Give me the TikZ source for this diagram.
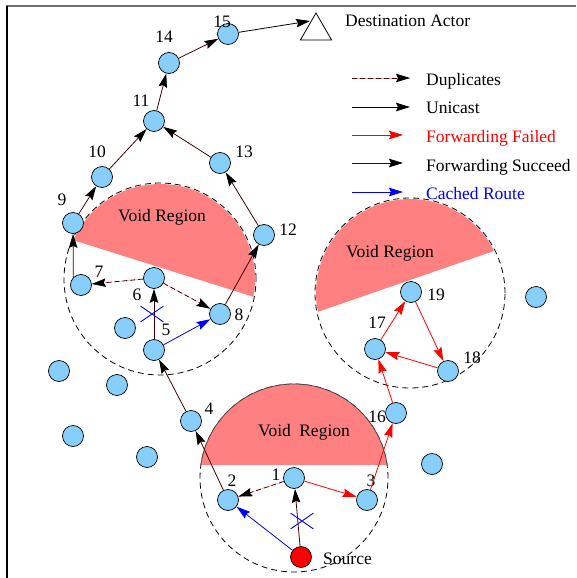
\documentclass[tikz,border=0pt]{standalone}
\usepackage{fontspec}
\setmainfont{Liberation Serif}
\usetikzlibrary{arrows.meta,shapes.geometric,shapes.misc}

\definecolor{skyb}{RGB}{135,206,250}
\definecolor{voidred}{RGB}{255,128,128}
\definecolor{pathdark}{RGB}{64,0,0}
\definecolor{duppink}{RGB}{255,150,150}
\definecolor{framegray}{RGB}{110,110,110}

\tikzset{
  sensor/.style={circle, draw=black, line width=0.7pt, fill=skyb,
    minimum size=21pt, inner sep=0pt},
  srcnode/.style={sensor, fill=red},
  lbl/.style={font=\fontsize{17.5}{20}\selectfont, inner sep=0pt},
  tipk/.style={-{Stealth[length=14pt,width=8.5pt,inset=2pt,#1]}},
  succ/.style={line width=0.8pt, draw=pathdark, tipk=black},
  unicast/.style={line width=0.8pt, draw=black, tipk=black},
  failed/.style={line width=0.8pt, draw=red, tipk=red},
  cached/.style={line width=0.8pt, draw=blue, tipk=blue},
  dup/.style={line width=0.8pt, draw=pathdark, dash pattern=on 5pt off 3pt,
    tipk=black, preaction={draw=duppink, solid, arrows=-}},
  voidring/.style={draw=black, line width=0.8pt, dash pattern=on 6pt off 4pt},
  xmark/.style={cross out, draw=blue, line width=0.9pt,
    minimum width=22pt, minimum height=15pt, inner sep=0pt},
}

\begin{document}
\begin{tikzpicture}[x=1pt, y=-1pt]
\useasboundingbox (0,0) rectangle (576,578);

% frame
\draw[framegray, line width=1.8pt] (6,6) -- (576,6);
\draw[black, line width=1.3pt] (7,6) -- (7,578);

% void regions (circle segments)
\begin{scope}
  \clip (60,180) -- (270,180) -- (270,302) -- (60,236) -- cycle;
  \fill[voidred] (160,279) circle[radius=95pt];
\end{scope}
\draw[voidring] (160,279) circle[radius=96pt];

\begin{scope}
  \clip (300,190) -- (520,190) -- (520,242) -- (300,318) -- cycle;
  \fill[voidred] (410,293) circle[radius=94pt];
\end{scope}
\draw[voidring] (410,293) circle[radius=95pt];

\draw[voidring] (294,478) circle[radius=94pt];
\begin{scope}
  \clip (190,370) rectangle (400,464);
  \fill[voidred, draw=black!75, line width=0.7pt] (294,478) circle[radius=94pt];
\end{scope}

% sensors
\node[sensor] (n15) at (228,34) {};
\node[sensor] (n14) at (169,63) {};
\node[sensor] (n11) at (154,121) {};
\node[sensor] (n10) at (102,177) {};
\node[sensor] (n13) at (220,163) {};
\node[sensor] (n9)  at (73,223) {};
\node[sensor] (n12) at (264,235) {};
\node[sensor] (n7)  at (81,285) {};
\node[sensor] (n6)  at (154,278) {};
\node[sensor] (n8)  at (220,314) {};
\node[sensor] (n5)  at (154,350) {};
\node[sensor] (n4)  at (191,421) {};
\node[sensor] (n1)  at (294,478) {};
\node[sensor] (n2)  at (228,500) {};
\node[sensor] (n3)  at (367,500) {};
\node[sensor] (n16) at (396,413) {};
\node[sensor] (n17) at (375,349) {};
\node[sensor] (n19) at (411,292) {};
\node[sensor] (n18) at (448,371) {};
\node[srcnode] (src) at (301,557) {};

\node[sensor] (o1) at (125,328) {};
\node[sensor] (o2) at (59,371) {};
\node[sensor] (o3) at (117,385) {};
\node[sensor] (o4) at (73,436) {};
\node[sensor] (o5) at (147,457) {};
\node[sensor] (o6) at (432,464) {};
\node[sensor] (o7) at (536,297) {};

% destination actor
\node[regular polygon, regular polygon sides=3, draw=black, line width=0.8pt,
  minimum size=36pt, inner sep=0pt] (dest) at (316,31) {};
\coordinate (destin) at (310,21);

% node numbers
\node[lbl] (t15) at (222,22) {15};
\node[lbl] (t14) at (164,37) {14};
\node[lbl] (t11) at (141,101) {11};
\node[lbl] (t10) at (97,152) {10};
\node[lbl] (t13) at (244,152) {13};
\node[lbl] (t9)  at (62,200) {9};
\node[lbl] (t12) at (288,230) {12};
\node[lbl] (t7)  at (99,272) {7};
\node[lbl] (t6)  at (137,295) {6};
\node[lbl] (t5)  at (166,330) {5};
\node[lbl] (t8)  at (239,315) {8};
\node[lbl] (t4)  at (209,409) {4};
\node[lbl] (t2)  at (232,481) {2};
\node[lbl] (t1)  at (276,475) {1};
\node[lbl] (t3)  at (371,481) {3};
\node[lbl] (t16) at (377,417) {16};
\node[lbl] (t17) at (377,323) {17};
\node[lbl] (t19) at (436,295) {19};
\node[lbl] (t18) at (472,358) {18};
\node[lbl, anchor=base west] (tsrc) at (323,564) {Source};

% region captions
\node[lbl, anchor=base west] (v1) at (118,221) {Void Region};
\node[lbl, anchor=base west] (v2) at (346,257) {Void Region};
\node[lbl, anchor=base west] (v3) at (258,436) {Void\hspace{4pt} Region};

% routes
\draw[unicast] (n15) -- (destin);
\draw[succ] (n14) -- (n15);
\draw[succ] (n11) -- (n14);
\draw[succ] (n10) -- (n11);
\draw[succ] (n13) -- (n11);
\draw[succ] (n9) -- (n10);
\draw[succ] (n12) -- (n13);
\draw[succ] (n8) -- (n12);
\draw[succ] (n7.north west) -- (n9);
\draw[succ] (n5) -- (n6);
\draw[succ] (n4) -- (n5);
\draw[succ] (n2) -- (n4);
\draw[succ] (src) -- (n1);
\draw[dup] (n6) -- (n7);
\draw[dup] (n6) -- (n8);
\draw[dup] (n1) -- (n2);
\draw[cached] (n5) -- (n8);
\draw[cached] (src) -- (n2);
\draw[failed] (n1) -- (n3);
\draw[failed] (n3) -- (n16);
\draw[failed] (n16) -- (n17);
\draw[failed] (n17) -- (n19);
\draw[failed] (n19) -- (n18);
\draw[failed] (n18) -- (n17);

% broken links
\node[xmark] (xa) at (152,314) {};
\node[xmark] (xb) at (302,521) {};

% legend
\node[lbl, anchor=base west] (tdest) at (345,27) {Destination Actor};
\coordinate (la1) at (352,78);  \coordinate (lb1) at (410,78);
\coordinate (la2) at (352,107); \coordinate (lb2) at (410,107);
\coordinate (la3) at (352,135); \coordinate (lb3) at (403,135);
\coordinate (la4) at (352,163); \coordinate (lb4) at (403,163);
\coordinate (la5) at (352,192); \coordinate (lb5) at (403,192);
\draw[dup] (la1) -- (lb1);
\draw[unicast] (la2) -- (lb2);
\draw[failed] (la3) -- (lb3);
\draw[succ] (la4) -- (lb4);
\draw[cached] (la5) -- (lb5);
\node[lbl, anchor=base west] (g1) at (426,85) {Duplicates};
\node[lbl, anchor=base west] (g2) at (426,113) {Unicast};
\node[lbl, anchor=base west, text=red] (g3) at (426,142) {Forwarding Failed};
\node[lbl, anchor=base west] (g4) at (426,171) {Forwarding Succeed};
\node[lbl, anchor=base west, text=blue] (g5) at (426,199) {Cached Route};
\end{tikzpicture}
\end{document}
